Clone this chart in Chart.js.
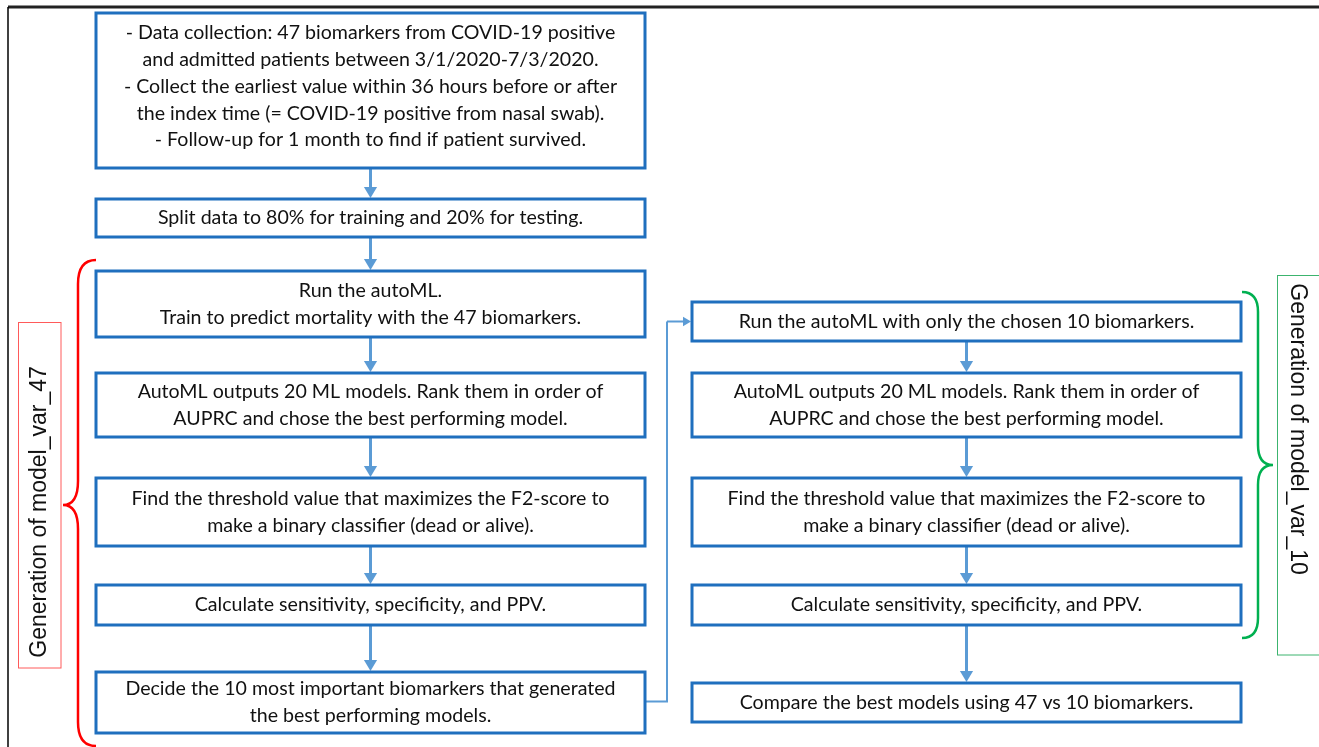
<!DOCTYPE html>
<html lang="en">
<head>
<meta charset="UTF-8">
<title>Generation of model_var_47 and model_var_10</title>
<script src="https://cdn.jsdelivr.net/npm/chart.js@4.4.0/dist/chart.umd.min.js"></script>
<style>
*{box-sizing:border-box;margin:0;padding:0}
body{background:#fff;width:1319px;height:747px;overflow:hidden}
.cw{position:relative;width:1319px;height:747px}
</style>
</head>
<body>
<div class="cw"><canvas id="flow"></canvas></div>
<script>
// step texts, left column (model_var_47) and right column (model_var_10)
const leftSteps = [
  ["- Data collection: 47 biomarkers from COVID-19 positive",
   "and admitted patients between 3/1/2020-7/3/2020.",
   "- Collect the earliest value within 36 hours before or after",
   "the index time (= COVID-19 positive from nasal swab).",
   "- Follow-up for 1 month to find if patient survived."],
  ["Split data to 80% for training and 20% for testing."],
  ["Run the autoML.", "Train to predict mortality with the 47 biomarkers."],
  ["AutoML outputs 20 ML models. Rank them in order of", "AUPRC and chose the best performing model."],
  ["Find the threshold value that maximizes the F2-score to", "make a binary classifier (dead or alive)."],
  ["Calculate sensitivity, specificity, and PPV."],
  ["Decide the 10 most important biomarkers that generated", "the best performing models."]
];
const rightSteps = [
  ["Run the autoML with only the chosen 10 biomarkers."],
  ["AutoML outputs 20 ML models. Rank them in order of", "AUPRC and chose the best performing model."],
  ["Find the threshold value that maximizes the F2-score to", "make a binary classifier (dead or alive)."],
  ["Calculate sensitivity, specificity, and PPV."],
  ["Compare the best models using 47 vs 10 biomarkers."]
];
const groupLabels = ["Generation of model_var_47", "Generation of model_var_10"];

// layout (in page units, drawn through the x/y scales)
const leftRows = [[13, 168], [199, 237], [271, 337], [373, 437], [478, 546], [585, 625], [672, 733]];
const rightRows = [[302, 341], [373, 437], [478, 546], [585, 625], [683, 722]];
const leftCol = [96, 645], rightCol = [692, 1241];

const boxColor = "#1F6FBE", arrowColor = "#5B9BD5", txtColor = "#111";
const bodyFont = "19.6px Lato, 'Open Sans', sans-serif";
const labelFont = "23px 'Liberation Sans', Arial, sans-serif";

const nodes = [];
leftRows.forEach((r, i) => nodes.push({ x: (leftCol[0] + leftCol[1]) / 2, y: (r[0] + r[1]) / 2, col: leftCol, row: r, lines: leftSteps[i] }));
rightRows.forEach((r, i) => nodes.push({ x: (rightCol[0] + rightCol[1]) / 2, y: (r[0] + r[1]) / 2, col: rightCol, row: r, lines: rightSteps[i] }));

const flowPlugin = {
  id: "flow",
  afterDatasetsDraw(chart) {
    const { ctx, scales: { x, y } } = chart;
    const px = v => x.getPixelForValue(v), py = v => y.getPixelForValue(v);
    ctx.save();

    // outer frame
    ctx.strokeStyle = "#222"; ctx.lineWidth = 3;
    ctx.beginPath(); ctx.moveTo(px(8), py(7)); ctx.lineTo(px(1319), py(7)); ctx.stroke();
    ctx.lineWidth = 1.5; ctx.strokeStyle = "#000";
    ctx.beginPath(); ctx.moveTo(px(8), py(7)); ctx.lineTo(px(8), py(747)); ctx.stroke();

    const arrow = (x1, y1, x2, y2, w, head) => {
      ctx.strokeStyle = arrowColor; ctx.fillStyle = arrowColor; ctx.lineWidth = w;
      const ang = Math.atan2(y2 - y1, x2 - x1);
      const bx = x2 - Math.cos(ang) * head, by = y2 - Math.sin(ang) * head;
      ctx.beginPath(); ctx.moveTo(x1, y1); ctx.lineTo(bx, by); ctx.stroke();
      ctx.beginPath();
      ctx.moveTo(x2, y2);
      ctx.lineTo(bx + Math.sin(ang) * head * 0.6, by - Math.cos(ang) * head * 0.6);
      ctx.lineTo(bx - Math.sin(ang) * head * 0.6, by + Math.cos(ang) * head * 0.6);
      ctx.closePath(); ctx.fill();
    };

    // vertical arrows between consecutive steps
    [[leftRows, leftCol], [rightRows, rightCol]].forEach(([rows, col]) => {
      const cx = px((col[0] + col[1]) / 2);
      for (let i = 0; i < rows.length - 1; i++) {
        arrow(cx, py(rows[i][1]) + 1, cx, py(rows[i + 1][0]) - 1, 3, 11);
      }
    });

    // connector from last left step to first right step
    const ly = py((leftRows[6][0] + leftRows[6][1]) / 2 - 1);
    const ry = py((rightRows[0][0] + rightRows[0][1]) / 2);
    ctx.strokeStyle = arrowColor; ctx.lineWidth = 2;
    ctx.beginPath(); ctx.moveTo(px(leftCol[1]), ly); ctx.lineTo(px(667), ly); ctx.lineTo(px(667), ry); ctx.stroke();
    arrow(px(667), ry, px(rightCol[0]) - 1, ry, 2, 8);

    // boxes + text
    ctx.font = bodyFont; ctx.textAlign = "center"; ctx.textBaseline = "middle";
    nodes.forEach(n => {
      const x0 = px(n.col[0]), x1 = px(n.col[1]), y0 = py(n.row[0]), y1 = py(n.row[1]);
      ctx.fillStyle = "#fff"; ctx.fillRect(x0, y0, x1 - x0, y1 - y0);
      ctx.strokeStyle = boxColor; ctx.lineWidth = 3;
      ctx.strokeRect(x0, y0, x1 - x0, y1 - y0);
      ctx.fillStyle = txtColor;
      const lh = 26.7, cy = py(n.y);
      n.lines.forEach((t, k) => ctx.fillText(t, px(n.x), cy + (k - (n.lines.length - 1) / 2) * lh - (n.lines.length > 3 ? 4 : 0)));
    });

    // braces
    const brace = (ex, mx, tx, top, tip, bottom, r, color) => {
      ctx.strokeStyle = color; ctx.lineWidth = 2.5;
      ctx.beginPath();
      ctx.moveTo(px(ex), py(top));
      ctx.quadraticCurveTo(px(mx), py(top), px(mx), py(top + r));
      ctx.lineTo(px(mx), py(tip - r));
      ctx.quadraticCurveTo(px(mx), py(tip), px(tx), py(tip));
      ctx.quadraticCurveTo(px(mx), py(tip), px(mx), py(tip + r));
      ctx.lineTo(px(mx), py(bottom - r));
      ctx.quadraticCurveTo(px(mx), py(bottom), px(ex), py(bottom));
      ctx.stroke();
    };
    brace(96, 78, 63, 260, 505, 746, 24, "#FF0000");
    brace(1242, 1258, 1273, 292, 465, 638, 20, "#00B050");

    // group label boxes
    ctx.lineWidth = 1;
    ctx.strokeStyle = "#FF5A5A";
    ctx.strokeRect(px(18.5), py(322.5), px(61) - px(18.5), py(668) - py(322.5));
    ctx.strokeStyle = "#3CB46E";
    ctx.strokeRect(px(1277.5), py(275.5), px(1330) - px(1277.5), py(655) - py(275.5));

    ctx.font = labelFont; ctx.fillStyle = txtColor;
    ctx.save(); ctx.translate(px(40), py(512)); ctx.rotate(-Math.PI / 2);
    ctx.fillText(groupLabels[0], 0, 0); ctx.restore();
    ctx.save(); ctx.translate(px(1297), py(429)); ctx.rotate(Math.PI / 2);
    ctx.fillText(groupLabels[1], 0, 0); ctx.restore();

    ctx.restore();
  }
};

new Chart(document.getElementById("flow"), {
  type: "scatter",
  data: {
    datasets: [{
      label: "steps",
      data: nodes.map(n => ({ x: n.x, y: n.y })),
      pointRadius: 0,
      pointHoverRadius: 0
    }]
  },
  options: {
    responsive: true, maintainAspectRatio: false, animation: false,
    layout: { padding: 0 },
    plugins: { legend: { display: false }, tooltip: { enabled: false } },
    scales: {
      x: { type: "linear", min: 0, max: 1319, display: false },
      y: { type: "linear", min: 0, max: 747, reverse: true, display: false }
    }
  },
  plugins: [flowPlugin]
});
</script>
</body>
</html>
